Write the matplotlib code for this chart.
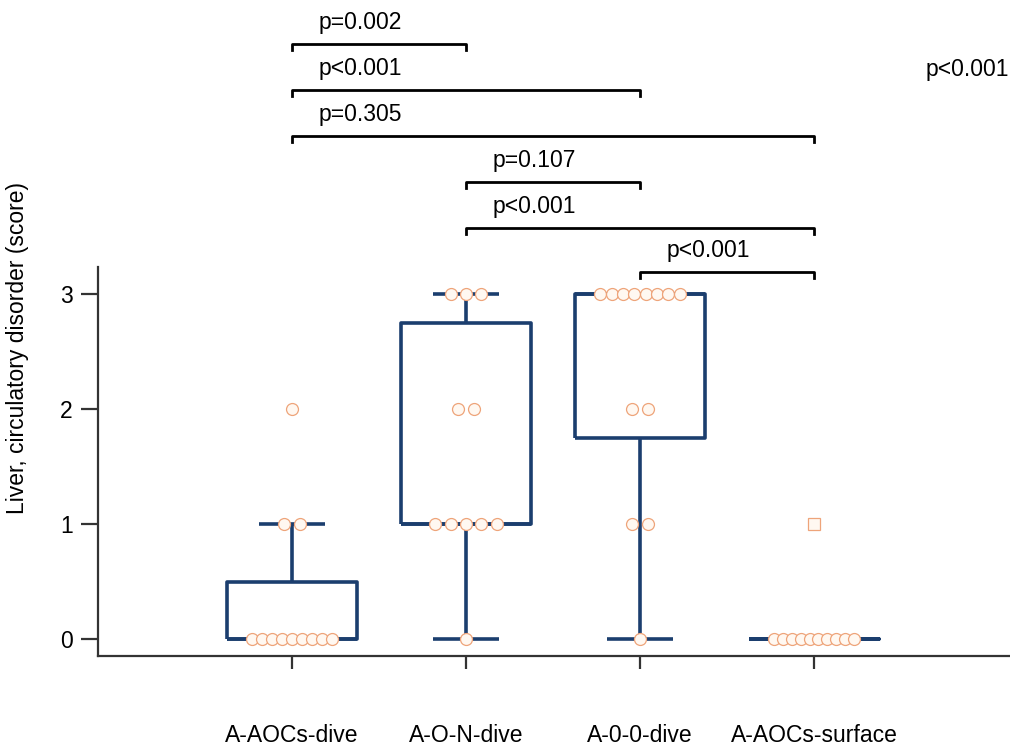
"""Liver circulatory disorder scores by group, box plot with dots and p-value brackets."""
from collections import Counter

import matplotlib

matplotlib.use("Agg")
import matplotlib.pyplot as plt

groups = ["A-AOCs-dive", "A-O-N-dive", "A-0-0-dive", "A-AOCs-surface"]

# individual scores per group
aocs_dive = [0, 0, 0, 0, 0, 0, 0, 0, 0, 1, 1, 2]
on_dive = [0, 1, 1, 1, 1, 1, 2, 2, 3, 3, 3]
oo_dive = [0, 1, 1, 2, 2, 3, 3, 3, 3, 3, 3, 3, 3]
aocs_surface = [0, 0, 0, 0, 0, 0, 0, 0, 0, 0]
surface_outliers = [1]

# box statistics as drawn in the figure
q1 = [0, 1, 1.75, 0]
q3 = [0.5, 2.75, 3, 0]
medians = [0, 1, 3, 0]
whisker_low = [0, 0, 0, 0]
whisker_high = [1, 3, 3, 0]

# pairwise comparisons: (group a, group b, label)
pairs = [
    (0, 1, "p=0.002"),
    (0, 2, "p<0.001"),
    (0, 3, "p=0.305"),
    (1, 2, "p=0.107"),
    (1, 3, "p<0.001"),
    (2, 3, "p<0.001"),
]
overall_p = "p<0.001"

BOX_COLOR = "#1b3e6e"
DOT_EDGE = "#eea47a"
DOT_FACE = "#fff8f1"
AXIS_COLOR = "#333333"
FONT = 16.5

plt.rcParams["font.family"] = ["Liberation Sans", "DejaVu Sans"]


def _swarm(values, gap=0.088, max_spread=0.455):
    """Spread tied values horizontally around zero."""
    counts = Counter(values)
    seen = Counter()
    offsets = []
    for value in values:
        n = counts[value]
        step = gap if n < 2 else min(gap, max_spread / (n - 1))
        offsets.append((seen[value] - (n - 1) / 2) * step)
        seen[value] += 1
    return offsets


fig = plt.figure(figsize=(10.1, 7.46), dpi=100)
ax = fig.add_axes([0.097, 0.1206, 0.903, 0.5215])

stats = [
    {"q1": a, "q3": b, "med": m, "whislo": lo, "whishi": hi, "fliers": []}
    for a, b, m, lo, hi in zip(q1, q3, medians, whisker_low, whisker_high)
]
line = {"color": BOX_COLOR, "linewidth": 2.6, "solid_capstyle": "butt"}
ax.bxp(
    stats,
    positions=range(len(groups)),
    widths=0.75,
    capwidths=0.375,
    showfliers=False,
    boxprops=line,
    whiskerprops=line,
    capprops=line,
    medianprops=line,
    manage_ticks=False,
)

for i, scores in enumerate([aocs_dive, on_dive, oo_dive, aocs_surface]):
    xs = [i + off for off in _swarm(scores)]
    ax.plot(xs, scores, "o", ms=8.6, mfc=DOT_FACE, mec=DOT_EDGE, mew=0.9,
            zorder=5, clip_on=False)
ax.plot([3] * len(surface_outliers), surface_outliers, "s", ms=8, mfc=DOT_FACE,
        mec=DOT_EDGE, mew=0.9, zorder=5)

# significance brackets above the plot
bracket_y = [5.17, 4.77, 4.37, 3.97, 3.57, 3.19]
for (a, b, label), y in zip(pairs, bracket_y):
    ax.plot([a, a, b, b], [y - 0.05, y, y, y - 0.05], color="black",
            linewidth=2, clip_on=False)
    ax.text(a + 0.155, y + 0.19, label, fontsize=FONT, ha="left", va="center")
ax.text(3.64, 4.95, overall_p, fontsize=FONT, ha="left", va="center")

ax.set_xlim(-1.115, 4.126)
ax.set_ylim(-0.148, 3.235)
ax.set_xticks(range(len(groups)))
ax.set_xticklabels(groups)
ax.set_yticks([0, 1, 2, 3])
ax.tick_params(axis="both", direction="out", length=12, width=1.6,
               color=AXIS_COLOR, labelsize=FONT)
ax.tick_params(axis="x", length=9, pad=40)
ax.tick_params(axis="y", pad=6)
for side in ("top", "right"):
    ax.spines[side].set_visible(False)
for side in ("left", "bottom"):
    ax.spines[side].set_linewidth(1.6)
    ax.spines[side].set_color(AXIS_COLOR)

fig.text(18 / 1010, 1 - 348 / 746, "Liver, circulatory disorder (score)",
         rotation=90, ha="center", va="center", fontsize=FONT)

fig.savefig("out.png", dpi=100)
